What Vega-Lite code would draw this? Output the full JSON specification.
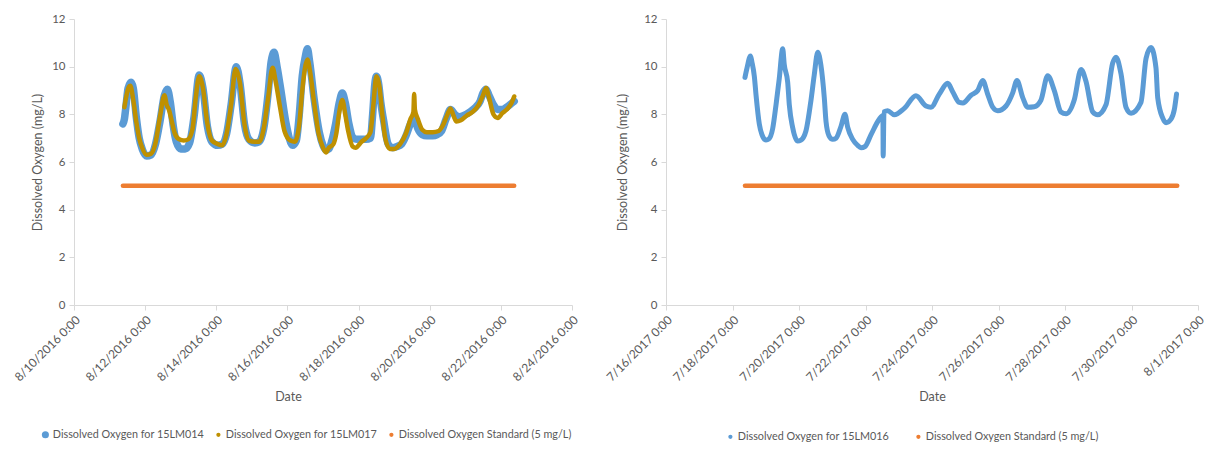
{
  "$schema": "https://vega.github.io/schema/vega-lite/v6.json",
  "background": "white",
  "padding": {"left": 12, "top": 13, "right": 10, "bottom": 5},
  "spacing": 24,
  "config": {
    "font": "Lato",
    "view": {"stroke": null},
    "axis": {"grid": false, "domainColor": "#D9D9D9", "tickColor": "#D9D9D9", "labelColor": "#595959", "titleColor": "#595959", "labelFontSize": 11.5, "titleFontSize": 12.5, "titleFontWeight": "normal", "tickSize": 5, "labelPadding": 4},
    "legend": {"orient": "none", "direction": "horizontal", "title": null, "labelFontSize": 10.8, "labelColor": "#595959", "symbolType": "circle", "symbolStrokeWidth": 0, "labelOffset": 2, "labelLimit": 400}
  },
  "datasets": {
    "left": [
      {"date": "2016-08-11T09:00", "value": 7.6, "series": "Dissolved Oxygen for 15LM014"},
      {"date": "2016-08-11T10:00", "value": 7.8, "series": "Dissolved Oxygen for 15LM014"},
      {"date": "2016-08-11T11:00", "value": 8.3, "series": "Dissolved Oxygen for 15LM014"},
      {"date": "2016-08-11T12:30", "value": 9.1, "series": "Dissolved Oxygen for 15LM014"},
      {"date": "2016-08-11T14:30", "value": 9.35, "series": "Dissolved Oxygen for 15LM014"},
      {"date": "2016-08-11T16:00", "value": 9.1, "series": "Dissolved Oxygen for 15LM014"},
      {"date": "2016-08-11T18:00", "value": 7.9, "series": "Dissolved Oxygen for 15LM014"},
      {"date": "2016-08-11T20:00", "value": 7.0, "series": "Dissolved Oxygen for 15LM014"},
      {"date": "2016-08-11T22:00", "value": 6.55, "series": "Dissolved Oxygen for 15LM014"},
      {"date": "2016-08-12T01:00", "value": 6.25, "series": "Dissolved Oxygen for 15LM014"},
      {"date": "2016-08-12T04:00", "value": 6.3, "series": "Dissolved Oxygen for 15LM014"},
      {"date": "2016-08-12T07:00", "value": 6.75, "series": "Dissolved Oxygen for 15LM014"},
      {"date": "2016-08-12T10:00", "value": 7.7, "series": "Dissolved Oxygen for 15LM014"},
      {"date": "2016-08-12T13:00", "value": 8.8, "series": "Dissolved Oxygen for 15LM014"},
      {"date": "2016-08-12T15:00", "value": 9.05, "series": "Dissolved Oxygen for 15LM014"},
      {"date": "2016-08-12T17:00", "value": 8.5, "series": "Dissolved Oxygen for 15LM014"},
      {"date": "2016-08-12T19:00", "value": 7.5, "series": "Dissolved Oxygen for 15LM014"},
      {"date": "2016-08-12T21:00", "value": 6.85, "series": "Dissolved Oxygen for 15LM014"},
      {"date": "2016-08-13T00:00", "value": 6.55, "series": "Dissolved Oxygen for 15LM014"},
      {"date": "2016-08-13T03:00", "value": 6.55, "series": "Dissolved Oxygen for 15LM014"},
      {"date": "2016-08-13T06:00", "value": 6.8, "series": "Dissolved Oxygen for 15LM014"},
      {"date": "2016-08-13T09:00", "value": 7.9, "series": "Dissolved Oxygen for 15LM014"},
      {"date": "2016-08-13T12:30", "value": 9.65, "series": "Dissolved Oxygen for 15LM014"},
      {"date": "2016-08-13T15:00", "value": 9.1, "series": "Dissolved Oxygen for 15LM014"},
      {"date": "2016-08-13T18:00", "value": 7.5, "series": "Dissolved Oxygen for 15LM014"},
      {"date": "2016-08-13T21:00", "value": 6.85, "series": "Dissolved Oxygen for 15LM014"},
      {"date": "2016-08-14T01:00", "value": 6.7, "series": "Dissolved Oxygen for 15LM014"},
      {"date": "2016-08-14T04:00", "value": 6.75, "series": "Dissolved Oxygen for 15LM014"},
      {"date": "2016-08-14T07:00", "value": 7.2, "series": "Dissolved Oxygen for 15LM014"},
      {"date": "2016-08-14T10:00", "value": 8.4, "series": "Dissolved Oxygen for 15LM014"},
      {"date": "2016-08-14T13:30", "value": 10.0, "series": "Dissolved Oxygen for 15LM014"},
      {"date": "2016-08-14T16:00", "value": 9.3, "series": "Dissolved Oxygen for 15LM014"},
      {"date": "2016-08-14T19:00", "value": 7.6, "series": "Dissolved Oxygen for 15LM014"},
      {"date": "2016-08-14T22:00", "value": 6.95, "series": "Dissolved Oxygen for 15LM014"},
      {"date": "2016-08-15T02:00", "value": 6.8, "series": "Dissolved Oxygen for 15LM014"},
      {"date": "2016-08-15T05:00", "value": 6.85, "series": "Dissolved Oxygen for 15LM014"},
      {"date": "2016-08-15T08:00", "value": 7.4, "series": "Dissolved Oxygen for 15LM014"},
      {"date": "2016-08-15T11:00", "value": 8.9, "series": "Dissolved Oxygen for 15LM014"},
      {"date": "2016-08-15T13:00", "value": 10.2, "series": "Dissolved Oxygen for 15LM014"},
      {"date": "2016-08-15T15:00", "value": 10.6, "series": "Dissolved Oxygen for 15LM014"},
      {"date": "2016-08-15T17:00", "value": 10.0, "series": "Dissolved Oxygen for 15LM014"},
      {"date": "2016-08-15T19:30", "value": 9.05, "series": "Dissolved Oxygen for 15LM014"},
      {"date": "2016-08-15T23:00", "value": 7.65, "series": "Dissolved Oxygen for 15LM014"},
      {"date": "2016-08-16T03:30", "value": 6.7, "series": "Dissolved Oxygen for 15LM014"},
      {"date": "2016-08-16T06:00", "value": 6.9, "series": "Dissolved Oxygen for 15LM014"},
      {"date": "2016-08-16T08:00", "value": 8.0, "series": "Dissolved Oxygen for 15LM014"},
      {"date": "2016-08-16T10:00", "value": 9.6, "series": "Dissolved Oxygen for 15LM014"},
      {"date": "2016-08-16T12:00", "value": 10.4, "series": "Dissolved Oxygen for 15LM014"},
      {"date": "2016-08-16T13:30", "value": 10.75, "series": "Dissolved Oxygen for 15LM014"},
      {"date": "2016-08-16T15:00", "value": 10.2, "series": "Dissolved Oxygen for 15LM014"},
      {"date": "2016-08-16T18:00", "value": 8.65, "series": "Dissolved Oxygen for 15LM014"},
      {"date": "2016-08-16T21:30", "value": 7.25, "series": "Dissolved Oxygen for 15LM014"},
      {"date": "2016-08-17T00:00", "value": 6.7, "series": "Dissolved Oxygen for 15LM014"},
      {"date": "2016-08-17T02:00", "value": 6.5, "series": "Dissolved Oxygen for 15LM014"},
      {"date": "2016-08-17T04:00", "value": 6.55, "series": "Dissolved Oxygen for 15LM014"},
      {"date": "2016-08-17T06:00", "value": 6.9, "series": "Dissolved Oxygen for 15LM014"},
      {"date": "2016-08-17T08:30", "value": 7.6, "series": "Dissolved Oxygen for 15LM014"},
      {"date": "2016-08-17T11:00", "value": 8.5, "series": "Dissolved Oxygen for 15LM014"},
      {"date": "2016-08-17T13:00", "value": 8.9, "series": "Dissolved Oxygen for 15LM014"},
      {"date": "2016-08-17T15:00", "value": 8.5, "series": "Dissolved Oxygen for 15LM014"},
      {"date": "2016-08-17T17:30", "value": 7.6, "series": "Dissolved Oxygen for 15LM014"},
      {"date": "2016-08-17T20:00", "value": 7.05, "series": "Dissolved Oxygen for 15LM014"},
      {"date": "2016-08-17T23:00", "value": 6.95, "series": "Dissolved Oxygen for 15LM014"},
      {"date": "2016-08-18T02:00", "value": 6.95, "series": "Dissolved Oxygen for 15LM014"},
      {"date": "2016-08-18T05:00", "value": 6.95, "series": "Dissolved Oxygen for 15LM014"},
      {"date": "2016-08-18T08:00", "value": 7.0, "series": "Dissolved Oxygen for 15LM014"},
      {"date": "2016-08-18T09:30", "value": 8.0, "series": "Dissolved Oxygen for 15LM014"},
      {"date": "2016-08-18T11:00", "value": 9.3, "series": "Dissolved Oxygen for 15LM014"},
      {"date": "2016-08-18T12:00", "value": 9.6, "series": "Dissolved Oxygen for 15LM014"},
      {"date": "2016-08-18T13:30", "value": 9.3, "series": "Dissolved Oxygen for 15LM014"},
      {"date": "2016-08-18T15:00", "value": 8.5, "series": "Dissolved Oxygen for 15LM014"},
      {"date": "2016-08-18T17:00", "value": 7.7, "series": "Dissolved Oxygen for 15LM014"},
      {"date": "2016-08-18T20:00", "value": 6.75, "series": "Dissolved Oxygen for 15LM014"},
      {"date": "2016-08-18T23:00", "value": 6.6, "series": "Dissolved Oxygen for 15LM014"},
      {"date": "2016-08-19T02:00", "value": 6.65, "series": "Dissolved Oxygen for 15LM014"},
      {"date": "2016-08-19T05:00", "value": 6.75, "series": "Dissolved Oxygen for 15LM014"},
      {"date": "2016-08-19T08:00", "value": 7.1, "series": "Dissolved Oxygen for 15LM014"},
      {"date": "2016-08-19T11:00", "value": 7.6, "series": "Dissolved Oxygen for 15LM014"},
      {"date": "2016-08-19T13:30", "value": 7.85, "series": "Dissolved Oxygen for 15LM014"},
      {"date": "2016-08-19T16:00", "value": 7.4, "series": "Dissolved Oxygen for 15LM014"},
      {"date": "2016-08-19T19:00", "value": 7.15, "series": "Dissolved Oxygen for 15LM014"},
      {"date": "2016-08-19T22:00", "value": 7.1, "series": "Dissolved Oxygen for 15LM014"},
      {"date": "2016-08-20T02:00", "value": 7.1, "series": "Dissolved Oxygen for 15LM014"},
      {"date": "2016-08-20T05:00", "value": 7.15, "series": "Dissolved Oxygen for 15LM014"},
      {"date": "2016-08-20T08:00", "value": 7.3, "series": "Dissolved Oxygen for 15LM014"},
      {"date": "2016-08-20T11:00", "value": 7.8, "series": "Dissolved Oxygen for 15LM014"},
      {"date": "2016-08-20T14:00", "value": 8.2, "series": "Dissolved Oxygen for 15LM014"},
      {"date": "2016-08-20T17:00", "value": 8.0, "series": "Dissolved Oxygen for 15LM014"},
      {"date": "2016-08-20T20:00", "value": 7.9, "series": "Dissolved Oxygen for 15LM014"},
      {"date": "2016-08-20T23:00", "value": 7.95, "series": "Dissolved Oxygen for 15LM014"},
      {"date": "2016-08-21T03:00", "value": 8.1, "series": "Dissolved Oxygen for 15LM014"},
      {"date": "2016-08-21T07:00", "value": 8.3, "series": "Dissolved Oxygen for 15LM014"},
      {"date": "2016-08-21T10:00", "value": 8.55, "series": "Dissolved Oxygen for 15LM014"},
      {"date": "2016-08-21T12:00", "value": 8.9, "series": "Dissolved Oxygen for 15LM014"},
      {"date": "2016-08-21T14:00", "value": 9.05, "series": "Dissolved Oxygen for 15LM014"},
      {"date": "2016-08-21T16:00", "value": 8.8, "series": "Dissolved Oxygen for 15LM014"},
      {"date": "2016-08-21T19:00", "value": 8.4, "series": "Dissolved Oxygen for 15LM014"},
      {"date": "2016-08-21T22:00", "value": 8.2, "series": "Dissolved Oxygen for 15LM014"},
      {"date": "2016-08-22T01:00", "value": 8.2, "series": "Dissolved Oxygen for 15LM014"},
      {"date": "2016-08-22T04:00", "value": 8.3, "series": "Dissolved Oxygen for 15LM014"},
      {"date": "2016-08-22T07:00", "value": 8.45, "series": "Dissolved Oxygen for 15LM014"},
      {"date": "2016-08-22T09:00", "value": 8.55, "series": "Dissolved Oxygen for 15LM014"},

      {"date": "2016-08-11T10:00", "value": 8.3, "series": "Dissolved Oxygen for 15LM017"},
      {"date": "2016-08-11T13:00", "value": 9.15, "series": "Dissolved Oxygen for 15LM017"},
      {"date": "2016-08-11T14:00", "value": 9.2, "series": "Dissolved Oxygen for 15LM017"},
      {"date": "2016-08-11T16:00", "value": 8.6, "series": "Dissolved Oxygen for 15LM017"},
      {"date": "2016-08-11T18:00", "value": 7.7, "series": "Dissolved Oxygen for 15LM017"},
      {"date": "2016-08-11T20:00", "value": 7.0, "series": "Dissolved Oxygen for 15LM017"},
      {"date": "2016-08-11T22:00", "value": 6.6, "series": "Dissolved Oxygen for 15LM017"},
      {"date": "2016-08-12T01:00", "value": 6.3, "series": "Dissolved Oxygen for 15LM017"},
      {"date": "2016-08-12T04:00", "value": 6.35, "series": "Dissolved Oxygen for 15LM017"},
      {"date": "2016-08-12T07:00", "value": 6.8, "series": "Dissolved Oxygen for 15LM017"},
      {"date": "2016-08-12T10:00", "value": 7.9, "series": "Dissolved Oxygen for 15LM017"},
      {"date": "2016-08-12T13:00", "value": 8.8, "series": "Dissolved Oxygen for 15LM017"},
      {"date": "2016-08-12T14:30", "value": 8.4, "series": "Dissolved Oxygen for 15LM017"},
      {"date": "2016-08-12T16:00", "value": 8.2, "series": "Dissolved Oxygen for 15LM017"},
      {"date": "2016-08-12T18:00", "value": 7.7, "series": "Dissolved Oxygen for 15LM017"},
      {"date": "2016-08-12T20:00", "value": 7.2, "series": "Dissolved Oxygen for 15LM017"},
      {"date": "2016-08-12T23:00", "value": 6.95, "series": "Dissolved Oxygen for 15LM017"},
      {"date": "2016-08-13T02:00", "value": 6.9, "series": "Dissolved Oxygen for 15LM017"},
      {"date": "2016-08-13T05:00", "value": 6.95, "series": "Dissolved Oxygen for 15LM017"},
      {"date": "2016-08-13T08:00", "value": 7.4, "series": "Dissolved Oxygen for 15LM017"},
      {"date": "2016-08-13T10:00", "value": 8.6, "series": "Dissolved Oxygen for 15LM017"},
      {"date": "2016-08-13T12:30", "value": 9.6, "series": "Dissolved Oxygen for 15LM017"},
      {"date": "2016-08-13T15:00", "value": 9.1, "series": "Dissolved Oxygen for 15LM017"},
      {"date": "2016-08-13T18:00", "value": 7.6, "series": "Dissolved Oxygen for 15LM017"},
      {"date": "2016-08-13T21:00", "value": 6.9, "series": "Dissolved Oxygen for 15LM017"},
      {"date": "2016-08-14T01:00", "value": 6.75, "series": "Dissolved Oxygen for 15LM017"},
      {"date": "2016-08-14T04:00", "value": 6.7, "series": "Dissolved Oxygen for 15LM017"},
      {"date": "2016-08-14T07:00", "value": 7.2, "series": "Dissolved Oxygen for 15LM017"},
      {"date": "2016-08-14T10:00", "value": 8.4, "series": "Dissolved Oxygen for 15LM017"},
      {"date": "2016-08-14T13:00", "value": 9.9, "series": "Dissolved Oxygen for 15LM017"},
      {"date": "2016-08-14T16:00", "value": 9.3, "series": "Dissolved Oxygen for 15LM017"},
      {"date": "2016-08-14T19:00", "value": 7.6, "series": "Dissolved Oxygen for 15LM017"},
      {"date": "2016-08-14T22:00", "value": 6.9, "series": "Dissolved Oxygen for 15LM017"},
      {"date": "2016-08-15T02:00", "value": 6.85, "series": "Dissolved Oxygen for 15LM017"},
      {"date": "2016-08-15T05:00", "value": 6.85, "series": "Dissolved Oxygen for 15LM017"},
      {"date": "2016-08-15T08:00", "value": 7.4, "series": "Dissolved Oxygen for 15LM017"},
      {"date": "2016-08-15T11:00", "value": 8.7, "series": "Dissolved Oxygen for 15LM017"},
      {"date": "2016-08-15T14:00", "value": 9.95, "series": "Dissolved Oxygen for 15LM017"},
      {"date": "2016-08-15T16:00", "value": 9.4, "series": "Dissolved Oxygen for 15LM017"},
      {"date": "2016-08-15T19:00", "value": 8.3, "series": "Dissolved Oxygen for 15LM017"},
      {"date": "2016-08-15T22:00", "value": 7.3, "series": "Dissolved Oxygen for 15LM017"},
      {"date": "2016-08-16T02:00", "value": 6.9, "series": "Dissolved Oxygen for 15LM017"},
      {"date": "2016-08-16T05:00", "value": 6.85, "series": "Dissolved Oxygen for 15LM017"},
      {"date": "2016-08-16T08:00", "value": 7.6, "series": "Dissolved Oxygen for 15LM017"},
      {"date": "2016-08-16T10:00", "value": 9.0, "series": "Dissolved Oxygen for 15LM017"},
      {"date": "2016-08-16T13:30", "value": 10.3, "series": "Dissolved Oxygen for 15LM017"},
      {"date": "2016-08-16T15:00", "value": 9.9, "series": "Dissolved Oxygen for 15LM017"},
      {"date": "2016-08-16T18:00", "value": 8.5, "series": "Dissolved Oxygen for 15LM017"},
      {"date": "2016-08-16T21:00", "value": 7.2, "series": "Dissolved Oxygen for 15LM017"},
      {"date": "2016-08-17T00:00", "value": 6.6, "series": "Dissolved Oxygen for 15LM017"},
      {"date": "2016-08-17T02:00", "value": 6.4, "series": "Dissolved Oxygen for 15LM017"},
      {"date": "2016-08-17T04:00", "value": 6.6, "series": "Dissolved Oxygen for 15LM017"},
      {"date": "2016-08-17T07:00", "value": 6.75, "series": "Dissolved Oxygen for 15LM017"},
      {"date": "2016-08-17T09:00", "value": 7.2, "series": "Dissolved Oxygen for 15LM017"},
      {"date": "2016-08-17T11:00", "value": 8.1, "series": "Dissolved Oxygen for 15LM017"},
      {"date": "2016-08-17T13:00", "value": 8.6, "series": "Dissolved Oxygen for 15LM017"},
      {"date": "2016-08-17T15:00", "value": 8.0, "series": "Dissolved Oxygen for 15LM017"},
      {"date": "2016-08-17T17:00", "value": 7.3, "series": "Dissolved Oxygen for 15LM017"},
      {"date": "2016-08-17T20:00", "value": 6.65, "series": "Dissolved Oxygen for 15LM017"},
      {"date": "2016-08-17T22:00", "value": 6.6, "series": "Dissolved Oxygen for 15LM017"},
      {"date": "2016-08-18T02:00", "value": 6.85, "series": "Dissolved Oxygen for 15LM017"},
      {"date": "2016-08-18T05:00", "value": 7.0, "series": "Dissolved Oxygen for 15LM017"},
      {"date": "2016-08-18T08:00", "value": 7.25, "series": "Dissolved Oxygen for 15LM017"},
      {"date": "2016-08-18T10:00", "value": 8.4, "series": "Dissolved Oxygen for 15LM017"},
      {"date": "2016-08-18T12:00", "value": 9.6, "series": "Dissolved Oxygen for 15LM017"},
      {"date": "2016-08-18T14:00", "value": 9.2, "series": "Dissolved Oxygen for 15LM017"},
      {"date": "2016-08-18T16:00", "value": 8.0, "series": "Dissolved Oxygen for 15LM017"},
      {"date": "2016-08-18T18:00", "value": 7.0, "series": "Dissolved Oxygen for 15LM017"},
      {"date": "2016-08-18T21:00", "value": 6.55, "series": "Dissolved Oxygen for 15LM017"},
      {"date": "2016-08-19T00:00", "value": 6.55, "series": "Dissolved Oxygen for 15LM017"},
      {"date": "2016-08-19T04:00", "value": 6.75, "series": "Dissolved Oxygen for 15LM017"},
      {"date": "2016-08-19T08:00", "value": 7.2, "series": "Dissolved Oxygen for 15LM017"},
      {"date": "2016-08-19T11:00", "value": 7.8, "series": "Dissolved Oxygen for 15LM017"},
      {"date": "2016-08-19T13:00", "value": 8.1, "series": "Dissolved Oxygen for 15LM017"},
      {"date": "2016-08-19T13:30", "value": 8.85, "series": "Dissolved Oxygen for 15LM017"},
      {"date": "2016-08-19T14:00", "value": 8.2, "series": "Dissolved Oxygen for 15LM017"},
      {"date": "2016-08-19T16:00", "value": 7.8, "series": "Dissolved Oxygen for 15LM017"},
      {"date": "2016-08-19T19:00", "value": 7.35, "series": "Dissolved Oxygen for 15LM017"},
      {"date": "2016-08-19T22:00", "value": 7.25, "series": "Dissolved Oxygen for 15LM017"},
      {"date": "2016-08-20T02:00", "value": 7.25, "series": "Dissolved Oxygen for 15LM017"},
      {"date": "2016-08-20T06:00", "value": 7.3, "series": "Dissolved Oxygen for 15LM017"},
      {"date": "2016-08-20T09:00", "value": 7.55, "series": "Dissolved Oxygen for 15LM017"},
      {"date": "2016-08-20T12:00", "value": 8.0, "series": "Dissolved Oxygen for 15LM017"},
      {"date": "2016-08-20T14:00", "value": 8.25, "series": "Dissolved Oxygen for 15LM017"},
      {"date": "2016-08-20T16:00", "value": 7.95, "series": "Dissolved Oxygen for 15LM017"},
      {"date": "2016-08-20T18:00", "value": 7.7, "series": "Dissolved Oxygen for 15LM017"},
      {"date": "2016-08-20T21:00", "value": 7.75, "series": "Dissolved Oxygen for 15LM017"},
      {"date": "2016-08-21T01:00", "value": 7.95, "series": "Dissolved Oxygen for 15LM017"},
      {"date": "2016-08-21T05:00", "value": 8.1, "series": "Dissolved Oxygen for 15LM017"},
      {"date": "2016-08-21T09:00", "value": 8.4, "series": "Dissolved Oxygen for 15LM017"},
      {"date": "2016-08-21T12:00", "value": 8.8, "series": "Dissolved Oxygen for 15LM017"},
      {"date": "2016-08-21T14:00", "value": 9.1, "series": "Dissolved Oxygen for 15LM017"},
      {"date": "2016-08-21T16:00", "value": 8.7, "series": "Dissolved Oxygen for 15LM017"},
      {"date": "2016-08-21T19:00", "value": 8.0, "series": "Dissolved Oxygen for 15LM017"},
      {"date": "2016-08-21T22:00", "value": 7.85, "series": "Dissolved Oxygen for 15LM017"},
      {"date": "2016-08-22T01:00", "value": 8.05, "series": "Dissolved Oxygen for 15LM017"},
      {"date": "2016-08-22T04:00", "value": 8.2, "series": "Dissolved Oxygen for 15LM017"},
      {"date": "2016-08-22T07:00", "value": 8.45, "series": "Dissolved Oxygen for 15LM017"},
      {"date": "2016-08-22T09:00", "value": 8.75, "series": "Dissolved Oxygen for 15LM017"},

      {"date": "2016-08-11T09:00", "value": 5, "series": "Dissolved Oxygen Standard (5 mg/L)"},
      {"date": "2016-08-22T09:00", "value": 5, "series": "Dissolved Oxygen Standard (5 mg/L)"}
    ],
    "right": [
      {"date": "2017-07-18T09:00", "value": 9.55, "series": "Dissolved Oxygen for 15LM016"},
      {"date": "2017-07-18T10:30", "value": 9.95, "series": "Dissolved Oxygen for 15LM016"},
      {"date": "2017-07-18T13:00", "value": 10.45, "series": "Dissolved Oxygen for 15LM016"},
      {"date": "2017-07-18T14:00", "value": 10.2, "series": "Dissolved Oxygen for 15LM016"},
      {"date": "2017-07-18T15:45", "value": 9.6, "series": "Dissolved Oxygen for 15LM016"},
      {"date": "2017-07-18T17:00", "value": 8.8, "series": "Dissolved Oxygen for 15LM016"},
      {"date": "2017-07-18T19:20", "value": 7.6, "series": "Dissolved Oxygen for 15LM016"},
      {"date": "2017-07-18T21:15", "value": 7.15, "series": "Dissolved Oxygen for 15LM016"},
      {"date": "2017-07-19T00:10", "value": 6.92, "series": "Dissolved Oxygen for 15LM016"},
      {"date": "2017-07-19T02:20", "value": 6.97, "series": "Dissolved Oxygen for 15LM016"},
      {"date": "2017-07-19T05:00", "value": 7.4, "series": "Dissolved Oxygen for 15LM016"},
      {"date": "2017-07-19T07:25", "value": 8.4, "series": "Dissolved Oxygen for 15LM016"},
      {"date": "2017-07-19T09:45", "value": 9.5, "series": "Dissolved Oxygen for 15LM016"},
      {"date": "2017-07-19T12:15", "value": 10.75, "series": "Dissolved Oxygen for 15LM016"},
      {"date": "2017-07-19T13:20", "value": 10.1, "series": "Dissolved Oxygen for 15LM016"},
      {"date": "2017-07-19T15:50", "value": 9.35, "series": "Dissolved Oxygen for 15LM016"},
      {"date": "2017-07-19T17:00", "value": 8.4, "series": "Dissolved Oxygen for 15LM016"},
      {"date": "2017-07-19T19:25", "value": 7.45, "series": "Dissolved Oxygen for 15LM016"},
      {"date": "2017-07-19T23:00", "value": 6.88, "series": "Dissolved Oxygen for 15LM016"},
      {"date": "2017-07-20T01:25", "value": 6.92, "series": "Dissolved Oxygen for 15LM016"},
      {"date": "2017-07-20T05:00", "value": 7.3, "series": "Dissolved Oxygen for 15LM016"},
      {"date": "2017-07-20T08:40", "value": 8.6, "series": "Dissolved Oxygen for 15LM016"},
      {"date": "2017-07-20T11:00", "value": 9.65, "series": "Dissolved Oxygen for 15LM016"},
      {"date": "2017-07-20T13:30", "value": 10.6, "series": "Dissolved Oxygen for 15LM016"},
      {"date": "2017-07-20T15:50", "value": 10.05, "series": "Dissolved Oxygen for 15LM016"},
      {"date": "2017-07-20T18:15", "value": 8.7, "series": "Dissolved Oxygen for 15LM016"},
      {"date": "2017-07-20T19:30", "value": 7.7, "series": "Dissolved Oxygen for 15LM016"},
      {"date": "2017-07-20T21:40", "value": 7.1, "series": "Dissolved Oxygen for 15LM016"},
      {"date": "2017-07-21T00:20", "value": 6.95, "series": "Dissolved Oxygen for 15LM016"},
      {"date": "2017-07-21T02:45", "value": 7.0, "series": "Dissolved Oxygen for 15LM016"},
      {"date": "2017-07-21T06:20", "value": 7.5, "series": "Dissolved Oxygen for 15LM016"},
      {"date": "2017-07-21T09:10", "value": 8.0, "series": "Dissolved Oxygen for 15LM016"},
      {"date": "2017-07-21T11:10", "value": 7.45, "series": "Dissolved Oxygen for 15LM016"},
      {"date": "2017-07-21T14:45", "value": 6.95, "series": "Dissolved Oxygen for 15LM016"},
      {"date": "2017-07-21T18:20", "value": 6.7, "series": "Dissolved Oxygen for 15LM016"},
      {"date": "2017-07-21T20:45", "value": 6.6, "series": "Dissolved Oxygen for 15LM016"},
      {"date": "2017-07-21T23:40", "value": 6.65, "series": "Dissolved Oxygen for 15LM016"},
      {"date": "2017-07-22T04:00", "value": 7.15, "series": "Dissolved Oxygen for 15LM016"},
      {"date": "2017-07-22T10:00", "value": 7.8, "series": "Dissolved Oxygen for 15LM016"},
      {"date": "2017-07-22T12:35", "value": 7.95, "series": "Dissolved Oxygen for 15LM016"},
      {"date": "2017-07-22T12:45", "value": 6.25, "series": "Dissolved Oxygen for 15LM016"},
      {"date": "2017-07-22T13:20", "value": 8.1, "series": "Dissolved Oxygen for 15LM016"},
      {"date": "2017-07-22T16:00", "value": 8.15, "series": "Dissolved Oxygen for 15LM016"},
      {"date": "2017-07-22T20:45", "value": 7.98, "series": "Dissolved Oxygen for 15LM016"},
      {"date": "2017-07-23T04:00", "value": 8.25, "series": "Dissolved Oxygen for 15LM016"},
      {"date": "2017-07-23T12:25", "value": 8.78, "series": "Dissolved Oxygen for 15LM016"},
      {"date": "2017-07-23T19:40", "value": 8.35, "series": "Dissolved Oxygen for 15LM016"},
      {"date": "2017-07-23T23:15", "value": 8.3, "series": "Dissolved Oxygen for 15LM016"},
      {"date": "2017-07-24T05:15", "value": 8.85, "series": "Dissolved Oxygen for 15LM016"},
      {"date": "2017-07-24T11:20", "value": 9.3, "series": "Dissolved Oxygen for 15LM016"},
      {"date": "2017-07-24T14:55", "value": 8.95, "series": "Dissolved Oxygen for 15LM016"},
      {"date": "2017-07-24T19:40", "value": 8.5, "series": "Dissolved Oxygen for 15LM016"},
      {"date": "2017-07-24T22:20", "value": 8.48, "series": "Dissolved Oxygen for 15LM016"},
      {"date": "2017-07-25T04:10", "value": 8.8, "series": "Dissolved Oxygen for 15LM016"},
      {"date": "2017-07-25T09:00", "value": 9.0, "series": "Dissolved Oxygen for 15LM016"},
      {"date": "2017-07-25T12:35", "value": 9.42, "series": "Dissolved Oxygen for 15LM016"},
      {"date": "2017-07-25T16:10", "value": 8.85, "series": "Dissolved Oxygen for 15LM016"},
      {"date": "2017-07-25T19:50", "value": 8.3, "series": "Dissolved Oxygen for 15LM016"},
      {"date": "2017-07-25T23:25", "value": 8.15, "series": "Dissolved Oxygen for 15LM016"},
      {"date": "2017-07-26T05:25", "value": 8.35, "series": "Dissolved Oxygen for 15LM016"},
      {"date": "2017-07-26T10:15", "value": 8.9, "series": "Dissolved Oxygen for 15LM016"},
      {"date": "2017-07-26T13:20", "value": 9.42, "series": "Dissolved Oxygen for 15LM016"},
      {"date": "2017-07-26T17:30", "value": 8.7, "series": "Dissolved Oxygen for 15LM016"},
      {"date": "2017-07-26T21:05", "value": 8.3, "series": "Dissolved Oxygen for 15LM016"},
      {"date": "2017-07-27T01:50", "value": 8.32, "series": "Dissolved Oxygen for 15LM016"},
      {"date": "2017-07-27T06:40", "value": 8.6, "series": "Dissolved Oxygen for 15LM016"},
      {"date": "2017-07-27T11:30", "value": 9.62, "series": "Dissolved Oxygen for 15LM016"},
      {"date": "2017-07-27T16:15", "value": 9.0, "series": "Dissolved Oxygen for 15LM016"},
      {"date": "2017-07-27T21:05", "value": 8.1, "series": "Dissolved Oxygen for 15LM016"},
      {"date": "2017-07-28T00:45", "value": 8.02, "series": "Dissolved Oxygen for 15LM016"},
      {"date": "2017-07-28T06:40", "value": 8.6, "series": "Dissolved Oxygen for 15LM016"},
      {"date": "2017-07-28T11:35", "value": 9.88, "series": "Dissolved Oxygen for 15LM016"},
      {"date": "2017-07-28T15:05", "value": 9.4, "series": "Dissolved Oxygen for 15LM016"},
      {"date": "2017-07-28T20:00", "value": 8.1, "series": "Dissolved Oxygen for 15LM016"},
      {"date": "2017-07-28T23:35", "value": 7.98, "series": "Dissolved Oxygen for 15LM016"},
      {"date": "2017-07-29T05:35", "value": 8.4, "series": "Dissolved Oxygen for 15LM016"},
      {"date": "2017-07-29T10:25", "value": 10.15, "series": "Dissolved Oxygen for 15LM016"},
      {"date": "2017-07-29T12:50", "value": 10.4, "series": "Dissolved Oxygen for 15LM016"},
      {"date": "2017-07-29T16:25", "value": 9.7, "series": "Dissolved Oxygen for 15LM016"},
      {"date": "2017-07-29T20:00", "value": 8.3, "series": "Dissolved Oxygen for 15LM016"},
      {"date": "2017-07-29T23:40", "value": 8.05, "series": "Dissolved Oxygen for 15LM016"},
      {"date": "2017-07-30T06:50", "value": 8.5, "series": "Dissolved Oxygen for 15LM016"},
      {"date": "2017-07-30T10:30", "value": 10.35, "series": "Dissolved Oxygen for 15LM016"},
      {"date": "2017-07-30T14:05", "value": 10.8, "series": "Dissolved Oxygen for 15LM016"},
      {"date": "2017-07-30T17:40", "value": 9.95, "series": "Dissolved Oxygen for 15LM016"},
      {"date": "2017-07-30T18:55", "value": 8.7, "series": "Dissolved Oxygen for 15LM016"},
      {"date": "2017-07-30T22:30", "value": 7.85, "series": "Dissolved Oxygen for 15LM016"},
      {"date": "2017-07-31T00:55", "value": 7.65, "series": "Dissolved Oxygen for 15LM016"},
      {"date": "2017-07-31T04:30", "value": 7.8, "series": "Dissolved Oxygen for 15LM016"},
      {"date": "2017-07-31T06:55", "value": 8.2, "series": "Dissolved Oxygen for 15LM016"},
      {"date": "2017-07-31T08:30", "value": 8.85, "series": "Dissolved Oxygen for 15LM016"},

      {"date": "2017-07-18T09:00", "value": 5, "series": "Dissolved Oxygen Standard (5 mg/L)"},
      {"date": "2017-07-31T09:00", "value": 5, "series": "Dissolved Oxygen Standard (5 mg/L)"}
    ]
  },
  "hconcat": [
    {
      "width": 498,
      "height": 286,
      "data": {"name": "left"},
      "encoding": {
        "x": {"field": "date", "type": "temporal", "title": "Date",
          "scale": {"domain": [{"year": 2016, "month": 8, "date": 10}, {"year": 2016, "month": 8, "date": 24}]},
          "axis": {"values": [{"year": 2016, "month": 8, "date": 10}, {"year": 2016, "month": 8, "date": 12}, {"year": 2016, "month": 8, "date": 14}, {"year": 2016, "month": 8, "date": 16}, {"year": 2016, "month": 8, "date": 18}, {"year": 2016, "month": 8, "date": 20}, {"year": 2016, "month": 8, "date": 22}, {"year": 2016, "month": 8, "date": 24}],
            "format": "%-m/%-d/%Y %-H:%M", "labelAngle": -45, "labelFontSize": 12, "labelOverlap": false, "titleX": 214, "titleY": 85}},
        "y": {"field": "value", "type": "quantitative", "title": "Dissolved Oxygen (mg/L)",
          "scale": {"domain": [0, 12]}, "axis": {"values": [0, 2, 4, 6, 8, 10, 12], "titlePadding": 7}},
        "color": {"field": "series", "type": "nominal",
          "scale": {"domain": ["Dissolved Oxygen for 15LM014", "Dissolved Oxygen for 15LM017", "Dissolved Oxygen Standard (5 mg/L)"], "range": ["#5B9BD5", "#BF9000", "#ED7D31"]},
          "legend": {"legendX": -34, "legendY": 410, "columnPadding": 8,
            "symbolFillColor": {"expr": "datum.value == 'Dissolved Oxygen for 15LM014' ? '#5B9BD5' : datum.value == 'Dissolved Oxygen for 15LM017' ? '#BF9000' : '#ED7D31'"},
            "symbolSize": {"expr": "datum.value == 'Dissolved Oxygen for 15LM014' ? 50 : 18"}}}
      },
      "layer": [
        {"transform": [{"filter": "datum.series == 'Dissolved Oxygen for 15LM014'"}],
         "mark": {"type": "line", "strokeWidth": 7.5, "interpolate": "monotone", "strokeCap": "round", "strokeJoin": "round"}},
        {"transform": [{"filter": "datum.series == 'Dissolved Oxygen for 15LM017'"}],
         "mark": {"type": "line", "strokeWidth": 4.5, "interpolate": "monotone", "strokeCap": "round", "strokeJoin": "round"}},
        {"transform": [{"filter": "datum.series == 'Dissolved Oxygen Standard (5 mg/L)'"}],
         "mark": {"type": "line", "strokeWidth": 4.5, "strokeCap": "round"}}
      ]
    },
    {
      "width": 532,
      "height": 286,
      "data": {"name": "right"},
      "encoding": {
        "x": {"field": "date", "type": "temporal", "title": "Date",
          "scale": {"domain": [{"year": 2017, "month": 7, "date": 16}, {"year": 2017, "month": 8, "date": 1}]},
          "axis": {"values": [{"year": 2017, "month": 7, "date": 16}, {"year": 2017, "month": 7, "date": 18}, {"year": 2017, "month": 7, "date": 20}, {"year": 2017, "month": 7, "date": 22}, {"year": 2017, "month": 7, "date": 24}, {"year": 2017, "month": 7, "date": 26}, {"year": 2017, "month": 7, "date": 28}, {"year": 2017, "month": 7, "date": 30}, {"year": 2017, "month": 8, "date": 1}],
            "format": "%-m/%-d/%Y %-H:%M", "labelAngle": -45, "labelFontSize": 12, "labelOverlap": false, "titleX": 266, "titleY": 85}},
        "y": {"field": "value", "type": "quantitative", "title": "Dissolved Oxygen (mg/L)",
          "scale": {"domain": [0, 12]}, "axis": {"values": [0, 2, 4, 6, 8, 10, 12], "titlePadding": 14}},
        "color": {"field": "series", "type": "nominal",
          "scale": {"domain": ["Dissolved Oxygen for 15LM016", "Dissolved Oxygen Standard (5 mg/L)"], "range": ["#5B9BD5", "#ED7D31"]},
          "legend": {"legendX": 59, "legendY": 412, "columnPadding": 23,
            "symbolFillColor": {"expr": "datum.value == 'Dissolved Oxygen for 15LM016' ? '#5B9BD5' : '#ED7D31'"},
            "symbolSize": 18}}
      },
      "layer": [
        {"transform": [{"filter": "datum.series == 'Dissolved Oxygen for 15LM016'"}],
         "mark": {"type": "line", "strokeWidth": 5, "interpolate": "monotone", "strokeCap": "round", "strokeJoin": "round"}},
        {"transform": [{"filter": "datum.series == 'Dissolved Oxygen Standard (5 mg/L)'"}],
         "mark": {"type": "line", "strokeWidth": 4.5, "strokeCap": "round"}}
      ]
    }
  ],
  "resolve": {"scale": {"color": "independent", "x": "independent", "y": "independent"}, "legend": {"color": "independent"}}
}
